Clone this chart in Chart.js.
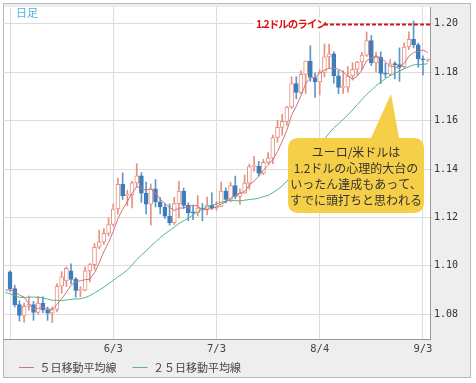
<!DOCTYPE html>
<html>
<head>
<meta charset="utf-8">
<script src="https://cdn.jsdelivr.net/npm/chart.js@4"></script>
<style>
  html, body { margin: 0; padding: 0; background: #fff; }
</style>
</head>
<body>
<canvas id="fxChart" width="476" height="383"></canvas>
<script>
// trading days shown on the chart (5/1 is only used by the average lines)
const labels = [
  "5/1","5/4","5/5","5/6","5/7","5/8","5/11","5/12","5/13","5/14","5/15","5/18","5/19","5/20","5/21","5/22","5/25","5/26","5/27","5/28","5/29",
  "6/1","6/2","6/3","6/4","6/5","6/8","6/9","6/10","6/11","6/12","6/15","6/16","6/17","6/18","6/19","6/22","6/23","6/24","6/25","6/26","6/29","6/30",
  "7/1","7/2","7/3","7/6","7/7","7/8","7/9","7/10","7/13","7/14","7/15","7/16","7/17","7/20","7/21","7/22","7/23","7/24","7/27","7/28","7/29","7/30","7/31",
  "8/3","8/4","8/5","8/6","8/7","8/10","8/11","8/12","8/13","8/14","8/17","8/18","8/19","8/20","8/21","8/24","8/25","8/26","8/27","8/28","8/31",
  "9/1","9/2","9/3","9/4"
];

// daily candles (open / high / low / close)
const opens = [null,
  1.0975,1.0906,1.0840,1.0795,1.0833,1.0840,1.0808,1.0846,1.0818,1.0805,1.0820,1.0916,1.0938,1.0980,1.0944,1.0899,1.0900,1.0979,1.1005,1.1077,
  1.1099,1.1134,1.1171,1.1235,1.1337,1.1290,1.1293,1.1343,1.1372,1.1300,1.1255,1.1318,1.1264,1.1243,1.1205,1.1178,1.1257,1.1309,1.1250,1.1220,1.1219,1.1239,
  1.1234,1.1251,1.1240,1.1245,1.1309,1.1274,1.1332,1.1287,1.1300,1.1342,1.1410,1.1411,1.1383,1.1428,1.1445,1.1530,1.1572,1.1597,1.1656,1.1753,1.1716,1.1791,1.1846,
  1.1778,1.1760,1.1799,1.1863,1.1876,1.1785,1.1737,1.1738,1.1784,1.1812,1.1842,1.1870,1.1930,1.1838,1.1861,1.1795,1.1792,1.1834,1.1831,1.1823,1.1904,
  1.1936,1.1913,1.1855,1.1849];
const highs = [null,
  1.0980,1.0920,1.0856,1.0846,1.0876,1.0853,1.0875,1.0872,1.0830,1.0830,1.0926,1.0976,1.0996,1.1008,1.0952,1.0914,1.0996,1.1010,1.1092,1.1147,
  1.1154,1.1198,1.1256,1.1361,1.1384,1.1313,1.1349,1.1422,1.1385,1.1346,1.1338,1.1356,1.1282,1.1258,1.1256,1.1283,1.1349,1.1322,1.1260,1.1248,1.1290,1.1258,
  1.1284,1.1302,1.1266,1.1346,1.1322,1.1345,1.1371,1.1317,1.1375,1.1420,1.1452,1.1431,1.1440,1.1468,1.1540,1.1601,1.1626,1.1659,1.1781,1.1781,1.1805,1.1846,1.1909,
  1.1797,1.1810,1.1916,1.1916,1.1884,1.1807,1.1806,1.1823,1.1839,1.1845,1.1882,1.1966,1.1952,1.1882,1.1884,1.1837,1.1852,1.1843,1.1900,1.1921,1.1966,
  1.2011,1.1920,1.1867,1.1855];
const lows = [null,
  1.0895,1.0830,1.0772,1.0767,1.0816,1.0775,1.0800,1.0807,1.0775,1.0766,1.0810,1.0887,1.0915,1.0927,1.0870,1.0872,1.0897,1.0934,1.0986,1.1071,
  1.1089,1.1124,1.1164,1.1213,1.1274,1.1248,1.1239,1.1326,1.1262,1.1215,1.1168,1.1243,1.1215,1.1196,1.1168,1.1171,1.1198,1.1236,1.1187,1.1191,1.1206,1.1186,
  1.1210,1.1233,1.1230,1.1244,1.1260,1.1264,1.1277,1.1254,1.1299,1.1316,1.1391,1.1371,1.1377,1.1422,1.1422,1.1510,1.1540,1.1580,1.1650,1.1690,1.1711,1.1712,1.1762,
  1.1696,1.1706,1.1780,1.1817,1.1754,1.1711,1.1712,1.1717,1.1767,1.1789,1.1811,1.1865,1.1827,1.1801,1.1753,1.1777,1.1785,1.1772,1.1762,1.1815,1.1893,
  1.1900,1.1820,1.1789,1.1843];
const closes = [null,
  1.0906,1.0840,1.0795,1.0833,1.0840,1.0808,1.0846,1.0818,1.0805,1.0820,1.0916,1.0955,1.0990,1.0944,1.0899,1.0900,1.0979,1.1005,1.1077,1.1099,
  1.1134,1.1171,1.1235,1.1337,1.1290,1.1293,1.1343,1.1372,1.1300,1.1255,1.1318,1.1264,1.1243,1.1205,1.1178,1.1257,1.1309,1.1250,1.1220,1.1219,1.1239,1.1234,
  1.1251,1.1240,1.1245,1.1309,1.1274,1.1332,1.1287,1.1300,1.1342,1.1410,1.1411,1.1383,1.1428,1.1445,1.1530,1.1572,1.1597,1.1656,1.1753,1.1716,1.1791,1.1846,1.1778,
  1.1760,1.1799,1.1863,1.1876,1.1785,1.1737,1.1738,1.1784,1.1812,1.1842,1.1870,1.1930,1.1838,1.1861,1.1795,1.1792,1.1834,1.1831,1.1823,1.1904,1.1936,
  1.1913,1.1855,1.1851,1.1851];

// moving average lines
const ma5 = [
  1.0900,1.0900,1.0895,1.0879,1.0871,1.0843,1.0823,1.0824,1.0829,1.0823,1.0819,1.0841,1.0864,1.0891,1.0920,1.0935,1.0938,1.0943,1.0945,1.0972,1.1012,
  1.1059,1.1097,1.1143,1.1195,1.1233,1.1265,1.1300,1.1327,1.1320,1.1313,1.1318,1.1302,1.1276,1.1257,1.1242,1.1229,1.1238,1.1240,1.1243,1.1251,1.1247,1.1232,
  1.1233,1.1237,1.1242,1.1256,1.1264,1.1280,1.1289,1.1300,1.1307,1.1334,1.1350,1.1369,1.1395,1.1415,1.1439,1.1472,1.1514,1.1560,1.1622,1.1659,1.1703,1.1752,1.1777,
  1.1778,1.1795,1.1809,1.1815,1.1817,1.1812,1.1800,1.1784,1.1771,1.1783,1.1809,1.1848,1.1858,1.1868,1.1859,1.1843,1.1824,1.1823,1.1815,1.1837,1.1866,
  1.1881,1.1886,1.1892,1.1881];
const ma25 = [
  1.0890,1.0885,1.0877,1.0870,1.0869,1.0871,1.0871,1.0870,1.0868,1.0863,1.0858,1.0858,1.0856,1.0859,1.0862,1.0863,1.0864,1.0869,1.0877,1.0888,1.0900,
  1.0912,1.0926,1.0940,1.0955,1.0968,1.0983,1.1003,1.1026,1.1045,1.1062,1.1082,1.1099,1.1116,1.1132,1.1146,1.1160,1.1175,1.1186,1.1197,1.1210,1.1224,1.1234,
  1.1244,1.1250,1.1256,1.1263,1.1267,1.1271,1.1269,1.1269,1.1271,1.1274,1.1276,1.1279,1.1286,1.1291,1.1302,1.1315,1.1330,1.1350,1.1369,1.1386,1.1407,1.1432,1.1455,
  1.1476,1.1498,1.1523,1.1548,1.1570,1.1587,1.1605,1.1623,1.1644,1.1666,1.1687,1.1708,1.1725,1.1744,1.1759,1.1773,1.1785,1.1795,1.1804,1.1814,1.1822,
  1.1830,1.1832,1.1832,1.1835];

// axis ticks
const xTickLabels = ["6/3","7/3","8/4","9/3"];
const xGridDates = ["5/4","6/3","7/3","8/4","9/3"];
const yTicks = [1.08, 1.10, 1.12, 1.14, 1.16, 1.18, 1.20];
const lineLevel = 1.20;

const upColor = "#e6907f";
const downColor = "#3e7dba";
const downWick = "#5b96cc";

function isUp(i) {
  return closes[i] >= opens[i];
}

// background panel + white plot area
const panelPlugin = {
  id: "panel",
  afterLayout(chart) {
    // pull the legend up closer to the date labels
    chart.legend.top -= 10;
    chart.legend.bottom -= 10;
  },
  beforeDraw(chart) {
    let ctx = chart.ctx;
    let a = chart.chartArea;
    ctx.save();
    ctx.fillStyle = "#ffffff";
    ctx.fillRect(0, 0, chart.width, chart.height);
    ctx.fillStyle = "#efeeef";
    ctx.fillRect(3, 3, 468, 375);
    ctx.fillStyle = "#ffffff";
    ctx.fillRect(a.left, a.top, a.right - a.left, a.bottom - a.top);
    ctx.strokeStyle = "#b8b8b8";
    ctx.lineWidth = 1;
    ctx.strokeRect(3.5, 3.5, 467, 374);
    ctx.restore();
  }
};

// the red 1.20 line, the speech bubble and the "日足" tag
const notePlugin = {
  id: "notes",
  afterDatasetsDraw(chart) {
    let ctx = chart.ctx;
    let a = chart.chartArea;
    let y = Math.round(chart.scales.y.getPixelForValue(lineLevel)) + 0.5;
    ctx.save();

    // 1.2 dollar line
    ctx.fillStyle = "#ffffff";
    ctx.fillRect(254, y - 7, 69, 14);
    ctx.font = "bold 10.5px 'Noto Sans CJK JP'";
    ctx.letterSpacing = "-1px";
    ctx.fillStyle = "#e01010";
    ctx.textBaseline = "middle";
    ctx.textAlign = "left";
    ctx.fillText("1.2ドルのライン", 256, y);
    ctx.letterSpacing = "0px";
    ctx.strokeStyle = "#d01818";
    ctx.lineWidth = 2;
    ctx.setLineDash([4, 2]);
    ctx.beginPath();
    ctx.moveTo(324, y);
    ctx.lineTo(a.right, y);
    ctx.stroke();
    ctx.setLineDash([]);

    // bubble
    let bx = 288, by = 138, bw = 136, bh = 75, r = 11;
    ctx.fillStyle = "#f5cf48";
    ctx.beginPath();
    ctx.moveTo(bx + r, by);
    ctx.lineTo(371, by);
    ctx.lineTo(391, 94);
    ctx.lineTo(399, by);
    ctx.lineTo(bx + bw - r, by);
    ctx.quadraticCurveTo(bx + bw, by, bx + bw, by + r);
    ctx.lineTo(bx + bw, by + bh - r);
    ctx.quadraticCurveTo(bx + bw, by + bh, bx + bw - r, by + bh);
    ctx.lineTo(bx + r, by + bh);
    ctx.quadraticCurveTo(bx, by + bh, bx, by + bh - r);
    ctx.lineTo(bx, by + r);
    ctx.quadraticCurveTo(bx, by, bx + r, by);
    ctx.closePath();
    ctx.fill();

    ctx.fillStyle = "#333333";
    ctx.font = "12px 'Noto Sans CJK JP'";
    ctx.textAlign = "center";
    let lines = ["ユーロ/米ドルは", "1.2ドルの心理的大台の", "いったん達成もあって、", "すでに頭打ちと思われる"];
    for (let k = 0; k < lines.length; k++) {
      ctx.fillText(lines[k], 356, 152 + k * 16);
    }

    // daily tag
    ctx.fillStyle = "#4fb2e3";
    ctx.font = "11px 'Noto Sans CJK JP'";
    ctx.textAlign = "left";
    ctx.fillText("日足", 16, 13);
    ctx.restore();
  }
};

let ctx = document.getElementById("fxChart").getContext("2d");

let chart = new Chart(ctx, {
  type: "bar",
  data: {
    labels: labels,
    datasets: [
      {
        type: "line",
        label: "５日移動平均線",
        data: ma5,
        borderColor: "#cc7480",
        backgroundColor: "#cc7480",
        borderWidth: 1,
        pointRadius: 0,
        order: 0
      },
      {
        type: "line",
        label: "２５日移動平均線",
        data: ma25,
        borderColor: "#4fb98b",
        backgroundColor: "#4fb98b",
        borderWidth: 1,
        pointRadius: 0,
        order: 0
      },
      {
        label: "body",
        data: labels.map((d, i) => opens[i] == null ? null : [opens[i], closes[i]]),
        grouped: false,
        barThickness: 4,
        minBarLength: 1,
        borderWidth: 1,
        borderSkipped: false,
        backgroundColor: c => isUp(c.dataIndex) ? "#ffffff" : downColor,
        borderColor: c => isUp(c.dataIndex) ? upColor : downColor,
        order: 1
      },
      {
        label: "wick",
        data: labels.map((d, i) => lows[i] == null ? null : [lows[i], highs[i]]),
        grouped: false,
        barThickness: 1,
        backgroundColor: c => isUp(c.dataIndex) ? upColor : downWick,
        order: 2
      }
    ]
  },
  options: {
    responsive: false,
    animation: false,
    layout: { padding: { left: 3, top: 3, right: 5, bottom: -10 } },
    plugins: {
      tooltip: { enabled: false },
      legend: {
        position: "bottom",
        align: "start",
        labels: {
          filter: item => item.datasetIndex < 2,
          usePointStyle: true,
          pointStyle: "line",
          pointStyleWidth: 15,
          padding: 16,
          color: "#444",
          font: { family: "'Noto Sans CJK JP'", size: 11 }
        }
      }
    },
    scales: {
      x: {
        offset: true,
        grid: {
          offset: false,
          drawTicks: false,
          color: c => xGridDates.includes(labels[c.index]) ? "#dcdcdc" : "rgba(0,0,0,0)"
        },
        border: { color: "#999" },
        ticks: {
          autoSkip: false,
          maxRotation: 0,
          padding: 4,
          color: "#444",
          font: { family: "'DejaVu Sans Mono'", size: 10.5 },
          callback: (v, i) => xTickLabels.includes(labels[i]) ? labels[i] : ""
        },
        afterFit: s => { s.height = 17; }
      },
      y: {
        position: "right",
        min: 1.0698,
        max: 1.2069,
        afterBuildTicks: s => { s.ticks = yTicks.map(v => ({ value: v })); },
        grid: { color: "#dcdcdc", tickLength: 3 },
        border: { color: "#999" },
        ticks: {
          padding: 1,
          color: "#333",
          font: { family: "'DejaVu Sans Mono'", size: 10 },
          callback: v => v.toFixed(2)
        },
        afterFit: s => { s.width = 41; }
      }
    }
  },
  plugins: [panelPlugin, notePlugin]
});
</script>
</body>
</html>
